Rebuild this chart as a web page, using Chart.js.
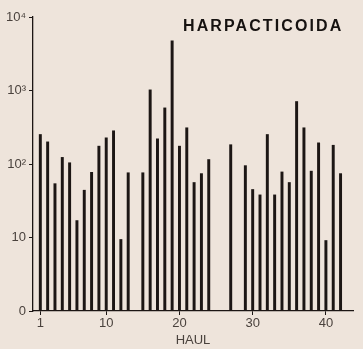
<!DOCTYPE html>
<html>
<head>
<meta charset="utf-8">
<script src="https://cdn.jsdelivr.net/npm/chart.js@4"></script>
<style>
  html, body { margin: 0; padding: 0; background: #eee4db; }
  canvas { display: block; }
</style>
</head>
<body>
<canvas id="haulChart" width="363" height="349"></canvas>
<script>
// haul numbers (hauls 14, 25, 26 and 28 have no bar)
const hauls = [1, 2, 3, 4, 5, 6, 7, 8, 9, 10, 11, 12, 13, 15, 16, 17, 18, 19, 20, 21,
  22, 23, 24, 27, 29, 30, 31, 32, 33, 34, 35, 36, 37, 38, 39, 40, 41, 42];
// harpacticoid counts per haul
const counts = [252, 200, 54, 123, 104, 17, 44, 77, 175, 227, 283, 9.4, 76, 76, 1020, 220, 580, 4750, 175, 311,
  56, 74, 115, 183, 95, 45, 38, 252, 38, 78, 56, 708, 311, 80, 194, 9.1, 180, 74];

const xTicks = [1, 10, 20, 30, 40];
const yTicks = [1, 10, 100, 1000, 10000];
const yTickLabels = ['0', '10', '10²', '10³', '10⁴'];
const chartTitle = 'HARPACTICOIDA';
const xTitle = 'HAUL';

const ink = '#1c1614';

// draws the background and the title inside the plot
const titlePlugin = {
  id: 'insideTitle',
  beforeDraw(chart) {
    const ctx = chart.ctx;
    ctx.save();
    ctx.fillStyle = '#eee4db';
    ctx.fillRect(0, 0, chart.width, chart.height);
    ctx.restore();
  },
  afterDraw(chart) {
    const ctx = chart.ctx;
    ctx.save();
    ctx.font = 'bold 16px "Liberation Sans", Arial, sans-serif';
    ctx.letterSpacing = '2.1px';
    ctx.fillStyle = '#161210';
    ctx.textAlign = 'left';
    ctx.textBaseline = 'alphabetic';
    ctx.fillText(chartTitle, 183, 31);
    ctx.restore();
  }
};

const ctx = document.getElementById('haulChart').getContext('2d');
new Chart(ctx, {
  type: 'bar',
  data: {
    datasets: [{
      data: hauls.map((h, i) => ({ x: h, y: counts[i] })),
      backgroundColor: ink,
      borderWidth: 0,
      barThickness: 2.3
    }]
  },
  options: {
    responsive: false,
    animation: false,
    events: [],
    layout: { padding: { top: 17, right: 10, left: 0, bottom: 0 } },
    plugins: {
      legend: { display: false },
      tooltip: { enabled: false }
    },
    scales: {
      x: {
        type: 'linear',
        min: 0,
        max: 43.7,
        offset: false,
        afterBuildTicks: (scale) => { scale.ticks = xTicks.map(v => ({ value: v })); },
        afterFit: (scale) => { scale.height = 38; },
        ticks: {
          autoSkip: false,
          maxRotation: 0,
          padding: 1,
          color: '#4a423d',
          font: { family: '"Liberation Sans", Arial, sans-serif', size: 13 },
          callback: (v) => String(v)
        },
        grid: { offset: false, drawOnChartArea: false, tickLength: 4, color: ink, lineWidth: 1 },
        border: { color: ink, width: 1.3 },
        title: {
          display: true,
          text: xTitle,
          color: '#4a423d',
          font: { family: '"Liberation Sans", Arial, sans-serif', size: 13 },
          padding: { top: 2, bottom: 1 }
        }
      },
      y: {
        type: 'logarithmic',
        min: 1,
        max: 10000,
        afterBuildTicks: (scale) => { scale.ticks = yTicks.map(v => ({ value: v })); },
        afterFit: (scale) => { scale.width = 33; },
        ticks: {
          padding: 3,
          color: '#4a423d',
          font: { family: '"Liberation Sans", Arial, sans-serif', size: 13 },
          callback: (v) => yTickLabels[yTicks.indexOf(v)]
        },
        grid: { drawOnChartArea: false, tickLength: 4, color: ink, lineWidth: 1 },
        border: { color: ink, width: 1.3 }
      }
    }
  },
  plugins: [titlePlugin]
});
</script>
</body>
</html>
